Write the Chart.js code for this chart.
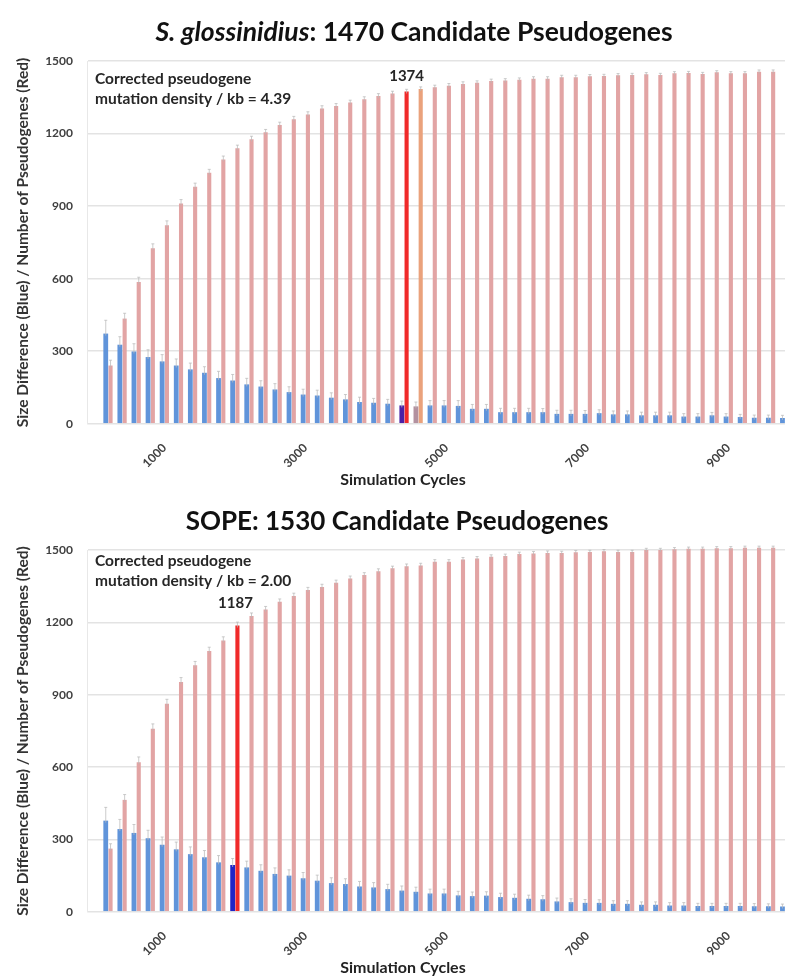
<!DOCTYPE html>
<html><head><meta charset="utf-8">
<script src="https://cdn.jsdelivr.net/npm/chart.js@4.4.1/dist/chart.umd.min.js"></script>
<style>
html,body{margin:0;padding:0;background:#fff;overflow:hidden;width:785px;height:977px;}
canvas{display:block;}
</style></head><body>
<canvas id="c1" width="810" height="489"></canvas>
<canvas id="c2" width="810" height="488"></canvas>
<script>
// ---------------- data ----------------
const cycles = [200,400,600,800,1000,1200,1400,1600,1800,2000,2200,2400,2600,2800,3000,3200,3400,3600,3800,4000,
  4200,4400,4600,4800,5000,5200,5400,5600,5800,6000,6200,6400,6600,6800,7000,7200,7400,7600,7800,8000,
  8200,8400,8600,8800,9000,9200,9400,9600,9800,10000];
const xTickValues = [1000,3000,5000,7000,9000];
const yTickStep = 300;

const sgTitleItalic = 'S. glossinidius';
const sgTitleRest = ': 1470 Candidate Pseudogenes';
const sgRed = [241,435,586,726,821,911,980,1038,1093,1139,1176,1205,1235,1259,1279,1304,1314,1328,1342,1355,
  1366,1374,1384,1391,1398,1405,1410,1417,1419,1422,1427,1427,1433,1433,1437,1438,1441,1442,1445,1442,
  1449,1450,1446,1453,1449,1449,1456,1456,1458,1460];
const sgRedErr = [22,22,20,18,18,16,15,14,14,13,13,12,12,12,11,11,10,10,10,10,
  9,9,9,9,9,9,8,8,8,8,8,8,8,8,7,7,7,7,7,7,7,7,7,7,7,7,7,7,7,7];
const sgBlue = [373,327,299,276,258,241,225,211,189,179,163,154,142,131,121,117,108,101,90,87,
  83,76,72,76,76,74,62,62,48,48,48,48,41,41,41,44,39,39,35,35,
  35,30,30,35,30,28,25,25,24,23];
const sgBlueErr = [55,33,32,30,28,27,26,25,28,25,25,24,24,22,22,22,20,20,20,18,
  18,18,18,20,20,22,18,18,16,16,16,15,15,15,14,14,14,14,13,13,13,12,12,12,12,11,11,11,11,11];
const sgHighlightCycle = 4400;
const sgHighlightLabel = '1374';
const sgNote = ['Corrected pseudogene', 'mutation density / kb = 4.39'];

const sopeTitle = 'SOPE: 1530 Candidate Pseudogenes';
const sopeRed = [262,464,620,759,863,953,1022,1081,1125,1187,1226,1253,1285,1309,1334,1347,1364,1382,1396,1412,
  1424,1433,1436,1451,1451,1461,1465,1472,1475,1483,1486,1488,1488,1491,1492,1495,1492,1492,1500,1500,
  1503,1505,1505,1507,1507,1509,1509,1509,1510,1511];
const sopeRedErr = [20,22,22,20,18,18,16,16,15,14,13,13,12,12,11,11,11,10,10,10,
  9,9,9,9,9,8,8,8,8,8,8,8,7,7,7,7,7,7,7,7,7,7,7,7,7,7,7,7,7,7];
const sopeBlue = [378,343,327,305,278,259,239,226,205,194,184,170,157,150,139,129,119,115,105,101,
  94,88,83,76,76,68,65,67,61,58,54,52,43,40,37,37,33,33,29,29,
  26,26,24,24,24,24,23,23,22,22];
const sopeBlueErr = [55,40,35,33,32,30,30,28,28,27,26,25,25,24,24,23,22,22,21,20,
  20,19,19,18,18,17,17,16,16,15,15,15,14,14,14,13,13,13,12,12,12,12,11,11,11,11,11,10,10,10];
const sopeHighlightCycle = 2000;
const sopeHighlightLabel = '1187';
const sopeNote = ['Corrected pseudogene', 'mutation density / kb = 2.00'];

// ---------------- styling ----------------
const FONT = 'Lato, "Open Sans", sans-serif';
const RED = '#E2A4A4', BLUE = '#6094DA';

const overlayPlugin = {
  id: 'overlay',
  afterDatasetsDraw(chart, args, o) {
    const {ctx, chartArea, scales: {y}} = chart;
    ctx.save();
    // error whiskers
    chart.data.datasets.forEach((ds, i) => {
      const meta = chart.getDatasetMeta(i);
      meta.data.forEach((el, j) => {
        const v = ds.data[j].y, e = ds.errors[j];
        const yTop = y.getPixelForValue(v + e);
        ctx.strokeStyle = 'rgba(185,185,185,0.75)';
        ctx.lineWidth = 1;
        ctx.beginPath();
        ctx.moveTo(el.x, el.y + 2); ctx.lineTo(el.x, yTop);
        ctx.moveTo(el.x - 1.5, yTop); ctx.lineTo(el.x + 1.5, yTop);
        ctx.stroke();
      });
    });
    // note text
    ctx.fillStyle = '#262626';
    ctx.font = 'bold 15.5px ' + FONT;
    ctx.textBaseline = 'middle';
    ctx.textAlign = 'left';
    o.note.forEach((t, k) => ctx.fillText(t, chartArea.left + 8, chartArea.top + o.noteTop + k * 20));
    // highlight label
    const redMeta = chart.getDatasetMeta(1);
    const idx = cycles.indexOf(o.hiCycle);
    const el = redMeta.data[idx];
    ctx.textAlign = 'center';
    ctx.font = 'bold 15px ' + FONT;
    ctx.fillText(o.hiLabel, el.x + o.hiDx, el.y - o.hiDy);
    // title (mixed italic)
    ctx.fillStyle = '#111';
    ctx.textBaseline = 'alphabetic';
    ctx.textAlign = 'left';
    const tf = p => (p.italic ? 'italic ' : '') + 'bold ' + o.titleSize + 'px ' + FONT;
    let total = 0;
    const parts = o.title.map(p => { ctx.font = tf(p); const w = ctx.measureText(p.text).width; total += w; return {p, w}; });
    let x = o.titleCenter - total / 2;
    parts.forEach(({p, w}) => { ctx.font = tf(p); ctx.fillText(p.text, x, o.titleY); x += w; });
    ctx.restore();
  }
};

function makeChart(id, red, redErr, blue, blueErr, cfg) {
  const hiIdx = cycles.indexOf(cfg.hiCycle);
  return new Chart(document.getElementById(id), {
    type: 'bar',
    data: {
      datasets: [
        { label: 'Size Difference', data: cycles.map((c, i) => ({x: c, y: blue[i]})), errors: blueErr,
          backgroundColor: ctx => ctx.dataIndex === hiIdx ? cfg.hiBlue : (cfg.nextBlue && ctx.dataIndex === hiIdx + 1 ? cfg.nextBlue : BLUE),
          barPercentage: 1.0, categoryPercentage: 0.68, clip: false },
        { label: 'Number of Pseudogenes', data: cycles.map((c, i) => ({x: c, y: red[i]})), errors: redErr,
          backgroundColor: ctx => ctx.dataIndex === hiIdx ? '#F02A2A' : (cfg.nextRed && ctx.dataIndex === hiIdx + 1 ? cfg.nextRed : RED),
          barPercentage: 0.86, categoryPercentage: 0.68, clip: false }
      ]
    },
    options: {
      responsive: false,
      animation: false,
      layout: { padding: { top: 61, left: 0, right: 4, bottom: 0 } },
      plugins: {
        legend: { display: false },
        tooltip: { enabled: false },
        title: { display: false },
        subtitle: { display: true, position: 'bottom', text: 'Simulation Cycles', color: '#222',
          font: { family: FONT, size: 16, weight: 'bold' }, padding: { top: 0, bottom: 0 } },
        overlay: cfg
      },
      scales: {
        x: {
          type: 'linear', min: -100, max: 10100, offset: false,
          grid: { display: false, drawTicks: false },
          border: { display: false },
          afterBuildTicks: s => { s.ticks = xTickValues.map(v => ({ value: v })); },
          afterFit: s => { s.height = cfg.xAxisHeight; },
          ticks: { autoSkip: false, minRotation: 45, maxRotation: 45, padding: 17, color: '#404040',
            font: { family: FONT, size: 12, weight: 'bold' }, callback: v => String(v) }
        },
        y: {
          min: 0, max: 1500,
          ticks: { stepSize: yTickStep, padding: 14, color: '#404040', font: { family: FONT, size: 12, weight: 'bold' },
            callback: v => String(v) },
          grid: { color: '#e3e3e3', lineWidth: 1.5, drawTicks: false },
          border: { display: true, color: '#e8e8e8', width: 1 },
          afterFit: s => { s.width = 87; },
          title: { display: true, text: 'Size Difference (Blue) / Number of Pseudogenes (Red)', color: '#333',
            font: { family: FONT, size: 15.5, weight: 'bold' }, padding: { top: 14, bottom: 0 } }
        }
      }
    },
    plugins: [overlayPlugin]
  });
}

makeChart('c1', sgRed, sgRedErr, sgBlue, sgBlueErr, {
  hiCycle: sgHighlightCycle, hiLabel: sgHighlightLabel, hiDx: 0, hiDy: 15,
  hiBlue: '#4B20A6', nextBlue: '#B3919F', nextRed: '#EAA27C',
  note: sgNote, noteTop: 18,
  title: [{text: sgTitleItalic, italic: true}, {text: sgTitleRest, italic: false}],
  titleCenter: 414, titleY: 41, titleSize: 26.5, xAxisHeight: 46
});
makeChart('c2', sopeRed, sopeRedErr, sopeBlue, sopeBlueErr, {
  hiCycle: sopeHighlightCycle, hiLabel: sopeHighlightLabel, hiDx: -2, hiDy: 22,
  hiBlue: '#2024C6', nextBlue: null, nextRed: null,
  note: sopeNote, noteTop: 11,
  title: [{text: sopeTitle, italic: false}],
  titleCenter: 397, titleY: 41, titleSize: 26, xAxisHeight: 46
});
</script></body></html>
